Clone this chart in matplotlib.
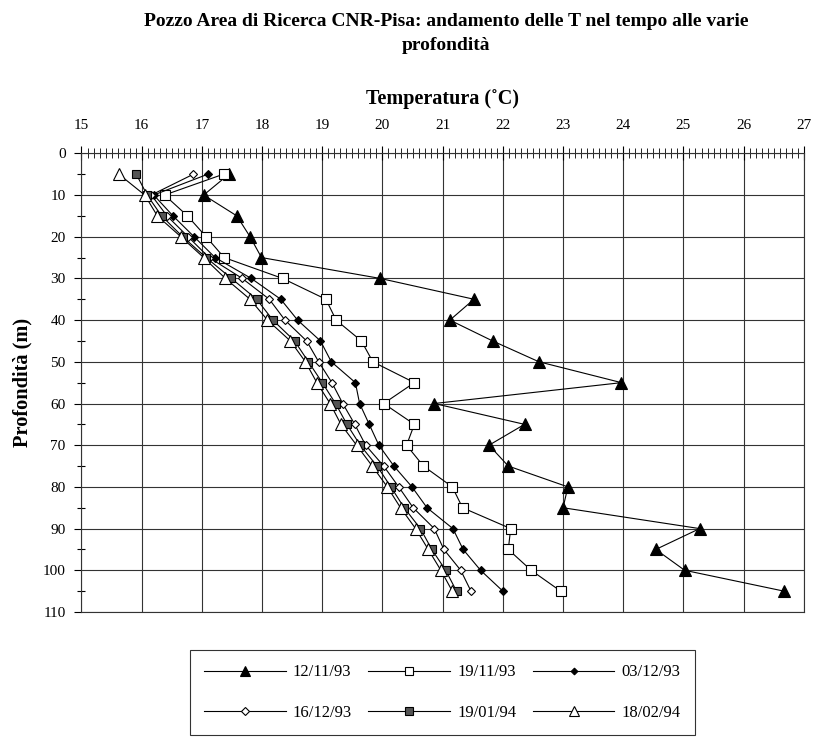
import matplotlib
matplotlib.use("Agg")
import matplotlib.pyplot as plt
from matplotlib.ticker import MultipleLocator

plt.rcParams['font.family'] = ['Liberation Serif', 'DejaVu Serif']

depths = [5, 10, 15, 20, 25, 30, 35, 40, 45, 50, 55, 60, 65, 70, 75, 80, 85, 90, 95, 100, 105]

t_121193 = [17.45, 17.03, 17.58, 17.80, 17.99, 19.96, 21.52, 21.12, 21.83, 22.60, 23.97,
            20.86, 22.36, 21.77, 22.09, 23.08, 23.00, 25.27, 24.54, 25.02, 26.67]
t_191193 = [17.36, 16.38, 16.76, 17.07, 17.37, 18.34, 19.06, 19.23, 19.65, 19.84, 20.53,
            20.02, 20.53, 20.40, 20.68, 21.16, 21.33, 22.13, 22.09, 22.47, 22.96]
t_031293 = [17.10, 16.20, 16.52, 16.87, 17.22, 17.82, 18.31, 18.59, 18.97, 19.15, 19.55,
            19.62, 19.78, 19.94, 20.19, 20.49, 20.74, 21.17, 21.34, 21.63, 22.00]
t_161293 = [16.86, 16.16, 16.42, 16.77, 17.12, 17.67, 18.12, 18.38, 18.74, 18.94, 19.16,
            19.34, 19.54, 19.72, 20.02, 20.27, 20.51, 20.86, 21.02, 21.30, 21.47]
t_190194 = [15.91, 16.09, 16.33, 16.68, 17.07, 17.49, 17.91, 18.18, 18.54, 18.77, 19.00,
            19.22, 19.41, 19.63, 19.91, 20.14, 20.36, 20.63, 20.82, 21.05, 21.23]
t_180294 = [15.62, 16.05, 16.26, 16.65, 17.03, 17.39, 17.80, 18.09, 18.47, 18.72, 18.91,
            19.13, 19.31, 19.57, 19.83, 20.08, 20.30, 20.55, 20.76, 20.97, 21.16]

labels = ['12/11/93', '19/11/93', '03/12/93', '16/12/93', '19/01/94', '18/02/94']
series = [t_121193, t_191193, t_031293, t_161293, t_190194, t_180294]
styles = [
    dict(marker='^', mfc='black', mec='black', ms=8),
    dict(marker='s', mfc='white', mec='black', ms=7),
    dict(marker='D', mfc='black', mec='black', ms=4),
    dict(marker='D', mfc='white', mec='black', ms=4.3),
    dict(marker='s', mfc='#555555', mec='black', ms=6),
    dict(marker='^', mfc='white', mec='black', ms=8),
]

fig = plt.figure(figsize=(8.19, 7.41), dpi=100)
ax = fig.add_axes([0.0995, 0.1741, 0.882, 0.619])

handles = []
for lab, vals, st in zip(labels, series, styles):
    h, = ax.plot(vals, depths, color='black', lw=0.8, mew=0.8, label=lab, clip_on=False, **st)
    handles.append(h)

ax.set_xlim(15, 27)
ax.set_ylim(110, 0)
ax.xaxis.tick_top()
ax.xaxis.set_label_position('top')
ax.xaxis.set_major_locator(MultipleLocator(1))
ax.xaxis.set_minor_locator(MultipleLocator(0.1))
ax.yaxis.set_major_locator(MultipleLocator(10))
ax.yaxis.set_minor_locator(MultipleLocator(5))
ax.tick_params(axis='x', which='major', direction='inout', length=10, width=0.8, labelsize=11, pad=10)
ax.tick_params(axis='x', which='minor', direction='inout', length=7, width=0.6)
ax.tick_params(axis='y', which='major', direction='out', length=5, width=0.8, labelsize=11, pad=6.5)
ax.tick_params(axis='y', which='minor', direction='inout', length=6, width=0.8)
ax.grid(True, which='major', color='#333333', lw=0.8)
for s in ax.spines.values():
    s.set_linewidth(0.8)
    s.set_color('#333333')

ax.set_xlabel('Temperatura (˚C)', fontsize=14.5, fontweight='bold', labelpad=11)
ax.set_ylabel('Profondità (m)', fontsize=14.7, fontweight='bold')
ax.yaxis.set_label_coords(-0.068, 0.5)

fig.text(0.545, 1 - 21 / 741, 'Pozzo Area di Ricerca CNR-Pisa: andamento delle T nel tempo alle varie',
         ha='center', va='center', fontsize=14, fontweight='bold')
fig.text(0.545, 1 - 46 / 741, 'profondità',
         ha='center', va='center', fontsize=14, fontweight='bold')

order = [0, 3, 1, 4, 2, 5]
leg = fig.legend(handles=[handles[i] for i in order], labels=[labels[i] for i in order],
                 ncol=3, loc='center', bbox_to_anchor=(0.540, 0.0655),
                 frameon=True, fancybox=False, edgecolor='black', fontsize=12,
                 handlelength=4.9, columnspacing=1.0, handletextpad=0.42, borderpad=0.85,
                 labelspacing=1.45, markerscale=0.85, borderaxespad=0)
leg.get_frame().set_linewidth(0.8)

fig.savefig('out.png', dpi=100)
